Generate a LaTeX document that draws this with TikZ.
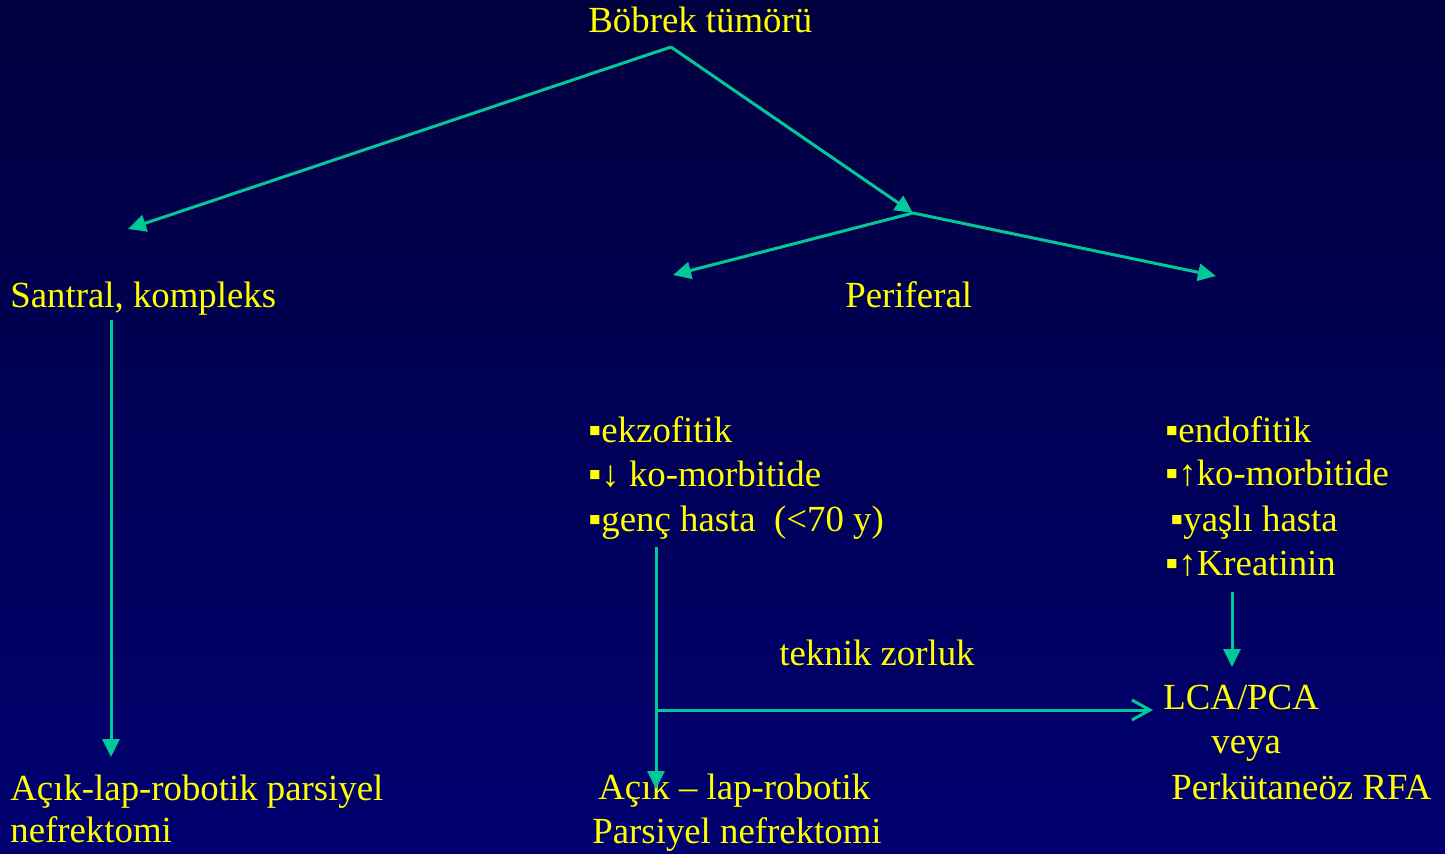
\documentclass[tikz,border=0pt]{standalone}
\usepackage{fontspec}
\setmainfont{Liberation Serif}
\usepackage{tikz}
\usetikzlibrary{arrows.meta}

\definecolor{slidetop}{RGB}{0,0,62}
\definecolor{slidebottom}{RGB}{0,0,112}
\definecolor{slideyellow}{RGB}{255,255,0}
\definecolor{linkteal}{RGB}{0,200,150}

\tikzset{
	lbl/.style={text=slideyellow, font=\fontsize{18.4}{22}\selectfont, inner sep=0pt, anchor=base west},
	link/.style={color=linkteal, line width=1.5pt, -{Triangle[length=9pt,width=8.5pt]}},
	barb/.style={color=linkteal, line width=1.5pt, -{Straight Barb[length=9pt,width=10pt,line width=1.5pt]}}
}

\begin{document}
\begin{tikzpicture}[x=0.5pt, y=-0.5pt]
\shade[top color=slidetop, bottom color=slidebottom] (0,0) rectangle (1445,853);
\useasboundingbox (0,0) rectangle (1445,853);

% texts
\node[lbl] (tumor) at (588,32) {Böbrek tümörü};
\node[lbl] (santral) at (10,307) {Santral, kompleks};
\node[lbl] (periferal) at (845,307) {Periferal};

\node[lbl] (ekzo) at (588,442) {▪ekzofitik};
\node[lbl] (ekzokomor) at (588,486) {▪↓ ko-morbitide};
\node[lbl] (genc) at (588,531) {▪genç hasta\ \ (<70 y)};

\node[lbl] (endo) at (1165,442) {▪endofitik};
\node[lbl] (endokomor) at (1165,485) {▪↑ko-morbitide};
\node[lbl] (yasli) at (1170,531) {▪yaşlı hasta};
\node[lbl] (kreatinin) at (1165,575) {▪↑Kreatinin};

\node[lbl] (teknik) at (779,665) {teknik zorluk};

\node[lbl] (lca) at (1163,709) {LCA/PCA};
\node[lbl] (veya) at (1211,753) {veya};
\node[lbl] (rfa) at (1171,799) {Perkütaneöz RFA};

\node[lbl] (acikleft) at (10,800) {Açık-lap-robotik parsiyel};
\node[lbl] (nefrleft) at (10,842) {nefrektomi};

\node[lbl] (acikmid) at (598,799) {Açık – lap-robotik};
\node[lbl] (nefrmid) at (592,843) {Parsiyel nefrektomi};

% connector ends
\coordinate (apex) at (671,47);
\coordinate (fork) at (913,213);
\coordinate (santraltip) at (128,229);
\coordinate (ekzotip) at (673,275);
\coordinate (endotip) at (1216,276);
\coordinate (santralfoot) at (111,320);
\coordinate (aciklefttip) at (111,757);
\coordinate (gencfoot) at (656,547);
\coordinate (acikmidtip) at (656,789);
\coordinate (branch) at (656,710);
\coordinate (lcatip) at (1153,710);
\coordinate (kreafoot) at (1232,592);
\coordinate (kreatip) at (1232,667);

\draw[link] (apex) -- (santraltip);
\draw[link] (apex) -- (fork);
\draw[link] (fork) -- (ekzotip);
\draw[link] (fork) -- (endotip);
\draw[link] (santralfoot) -- (aciklefttip);
\draw[link] (gencfoot) -- (acikmidtip);
\draw[link] (kreafoot) -- (kreatip);
\draw[barb] (branch) -- (lcatip);
\end{tikzpicture}
\end{document}
